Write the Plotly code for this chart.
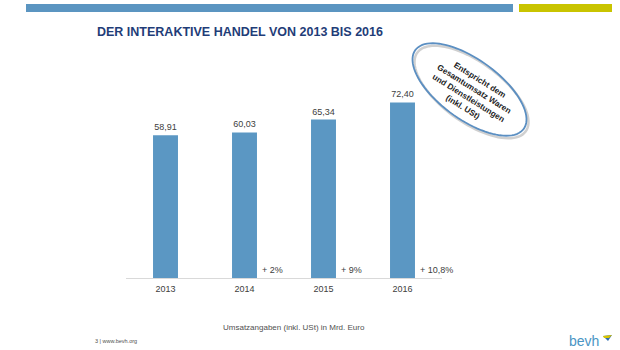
import math
import plotly.graph_objects as go

years = ["2013", "2014", "2015", "2016"]
values = [58.91, 60.03, 65.34, 72.40]
growth = ["", "+ 2%", "+ 9%", "+ 10,8%"]
value_labels = [f"{v:.2f}".replace(".", ",") for v in values]

W, H = 620, 350
L, R, T, B = 126, 178, 84, 72
PW, PH = W - L - R, H - T - B

def px(x):
    return (x - L) / PW

def py(y):
    return 1 - (y - T) / PH

FONT = "Liberation Sans, Arial, sans-serif"
BAR = "#5b97c3"

fig = go.Figure()
fig.add_trace(go.Bar(
    x=years, y=values, marker_color=BAR, marker_line_width=0,
    text=value_labels, textposition="outside", cliponaxis=False,
    textfont=dict(size=9, color="#404040", family=FONT),
))

annotations = []
for i, g in enumerate(growth):
    if g:
        annotations.append(dict(
            x=i, y=0, xref="x", yref="y", text=g, showarrow=False,
            xanchor="left", yanchor="bottom", xshift=15, yshift=1,
            font=dict(size=9, color="#404040", family=FONT)))

# title
annotations.append(dict(
    x=px(95), y=py(32), xref="paper", yref="paper", xanchor="left", yanchor="middle",
    text="<b>DER INTERAKTIVE HANDEL VON 2013 BIS 2016</b>", showarrow=False,
    font=dict(size=12.5, color="#1f3d78", family=FONT)))

# ellipse text
annotations.append(dict(
    x=px(471), y=py(93), xref="paper", yref="paper", xanchor="center", yanchor="middle",
    text="<b>Entspricht dem<br>Gesamtumsatz Waren<br>und Dienstleistungen<br>(inkl. USt)</b>",
    showarrow=False, textangle=32,
    font=dict(size=8.2, color="#222222", family=FONT)))

# footer texts
annotations.append(dict(
    x=px(294), y=py(327), xref="paper", yref="paper", xanchor="center", yanchor="middle",
    text="Umsatzangaben (inkl. USt) in Mrd. Euro", showarrow=False,
    font=dict(size=8, color="#505050", family=FONT)))
annotations.append(dict(
    x=px(93), y=py(341), xref="paper", yref="paper", xanchor="left", yanchor="middle",
    text="3 | www.bevh.org", showarrow=False,
    font=dict(size=5.5, color="#505050", family=FONT)))
annotations.append(dict(
    x=px(601), y=py(341), xref="paper", yref="paper", xanchor="right", yanchor="middle",
    text="bevh", showarrow=False,
    font=dict(size=14, color="#4a95c4", family=FONT)))

shapes = []
# top bars
shapes.append(dict(type="rect", xref="paper", yref="paper",
                   x0=px(26), x1=px(513), y0=py(4), y1=py(12),
                   fillcolor="#5b95c1", line_width=0))
shapes.append(dict(type="rect", xref="paper", yref="paper",
                   x0=px(519), x1=px(612), y0=py(4), y1=py(12),
                   fillcolor="#c9c400", line_width=0))

def ellipse_path(cx, cy, a, b, ang_deg, n=90):
    th = math.radians(ang_deg)
    pts = []
    for i in range(n):
        t = 2 * math.pi * i / n
        ex, ey = a * math.cos(t), b * math.sin(t)
        x = cx + ex * math.cos(th) - ey * math.sin(th)
        y = cy + ex * math.sin(th) + ey * math.cos(th)
        pts.append((px(x), py(y)))
    return "M " + " L ".join(f"{x:.5f},{y:.5f}" for x, y in pts) + " Z"

# shadow then ellipse
shapes.append(dict(type="path", xref="paper", yref="paper",
                   path=ellipse_path(471.5, 92, 67, 30, 36),
                   line=dict(color="rgba(150,150,150,0.45)", width=2.5)))
shapes.append(dict(type="path", xref="paper", yref="paper",
                   path=ellipse_path(469.5, 89.5, 67, 30, 36),
                   line=dict(color="#5b8fc2", width=1.8), fillcolor="rgba(255,255,255,0)"))

# bevh flag
shapes.append(dict(type="path", xref="paper", yref="paper",
                   path=f"M {px(603)},{py(336)} L {px(612)},{py(335)} L {px(608)},{py(341)} Z",
                   fillcolor="#2f6fb0", line_width=0))
shapes.append(dict(type="path", xref="paper", yref="paper",
                   path=f"M {px(603)},{py(336)} L {px(612)},{py(335)} L {px(609)},{py(338)} L {px(604)},{py(338)} Z",
                   fillcolor="#d8c400", line_width=0))

fig.update_layout(
    width=W, height=H, margin=dict(l=L, r=R, t=T, b=B),
    paper_bgcolor="white", plot_bgcolor="white",
    showlegend=False, bargap=0.684,
    font=dict(family=FONT),
    xaxis=dict(type="category", range=[-0.5, 3.5], showline=True, linecolor="#d9d9d9", linewidth=1,
               ticks="", showgrid=False, tickfont=dict(size=9, color="#404040"), ticklabelstandoff=2),
    yaxis=dict(range=[0, 80], visible=False, showgrid=False, zeroline=False),
    annotations=annotations, shapes=shapes,
)

fig.write_html("out.html")
